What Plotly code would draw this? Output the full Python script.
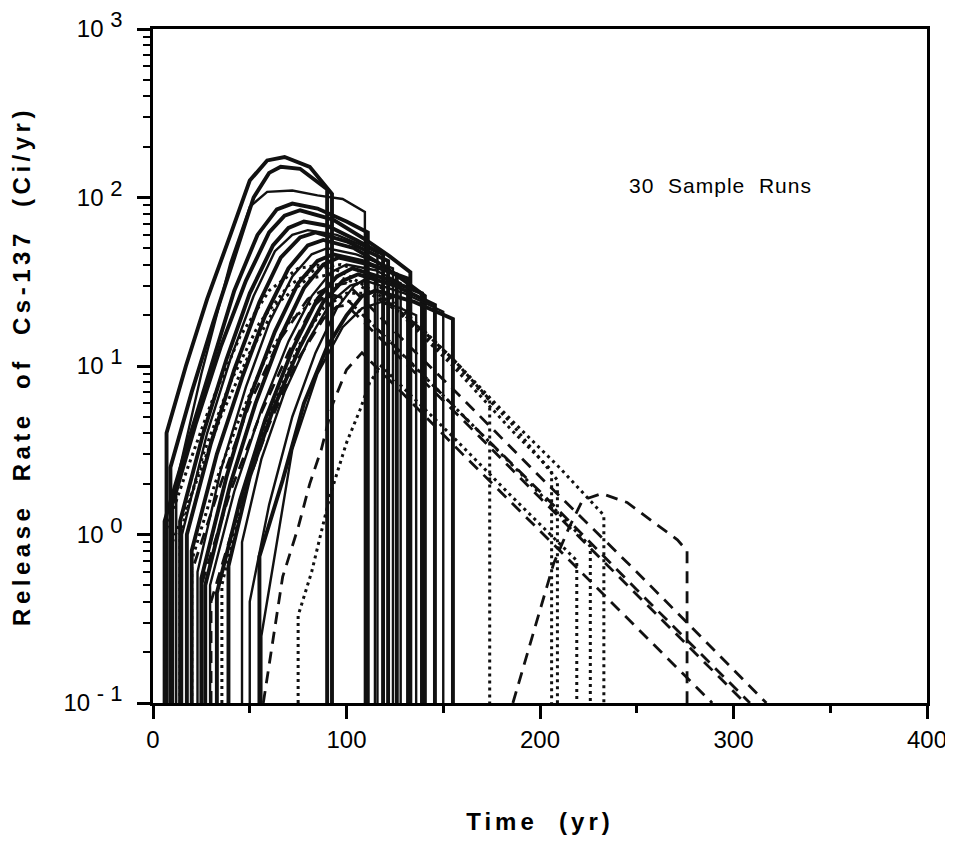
import plotly.graph_objects as go

# ---------------- data ----------------
# solid runs
s_t = [
    [7, 7, 17, 28, 40, 50, 59, 68, 81, 91, 92.5, 92.5],
    [9, 9, 20, 31, 42, 52, 60, 66, 76, 88, 90, 90],
    [12, 12, 25, 40, 50, 59, 72, 85, 98, 109.5, 109.5],
    [10, 10, 22, 35, 48, 60, 68, 76, 93, 110, 122, 133, 133],
    [14, 14, 26, 38, 50, 62, 70, 78, 90, 105, 118.9, 118.9],
    [15, 15, 28, 40, 52, 63, 72, 80, 95, 108, 116, 116],
    [17.5, 17.5, 30, 42, 55, 66, 76, 84, 100, 121.5, 121.5],
    [20, 20, 33, 46, 58, 70, 80, 88, 104, 118, 130, 140.5, 140.5],
    [23, 23, 35, 48, 60, 72, 82, 90, 105, 124, 124],
    [25, 25, 38, 50, 63, 75, 85, 93, 108, 126, 126],
    [27, 27, 40, 53, 66, 78, 88, 96, 112, 131.8, 131.8],
    [29.5, 29.5, 42, 56, 70, 82, 92, 100, 115, 128, 128],
    [33, 33, 45, 58, 72, 85, 95, 103, 120, 139, 139],
    [39, 39, 50, 62, 76, 88, 98, 106, 125, 145.7, 145.7],
    [46, 46, 56, 68, 80, 92, 102, 110, 130, 150, 150],
    [55, 55, 67, 78, 90, 100, 108, 115, 135, 155, 155],
    [56, 56, 72, 85, 98, 108, 118, 128, 136, 136],
    [6, 6, 18, 30, 42, 54, 64, 72, 85, 100, 111, 111],
    [50, 50, 60, 72, 84, 95, 104, 112, 114.7, 114.7],
]
s_v = [
    [0.1, 4, 10, 25, 60, 126, 166, 174, 152, 112, 105, 0.1],
    [0.1, 2.5, 7, 18, 44, 100, 140, 152, 148, 118, 112, 0.1],
    [0.1, 2, 9, 41, 88, 108, 110, 103, 98, 82, 0.1],
    [0.1, 1.5, 4.5, 13, 32, 62, 78, 84, 74, 56, 45, 36, 0.1],
    [0.1, 1.2, 4, 11, 27, 52, 66, 72, 68, 56, 46, 0.1],
    [0.1, 1.0, 4, 11, 26, 48, 60, 64, 60, 52, 47, 0.1],
    [0.1, 1.0, 3.5, 9.5, 24, 44, 58, 62, 55, 42, 0.1],
    [0.1, 0.8, 3, 8.5, 20, 38, 52, 56, 50, 40, 32, 26, 0.1],
    [0.1, 0.6, 2.4, 7.5, 18, 34, 46, 50, 46, 38, 0.1],
    [0.1, 0.55, 2.2, 6.5, 16, 31, 42, 46, 42, 35, 0.1],
    [0.1, 0.5, 2, 6, 15, 29, 40, 44, 40, 33, 0.1],
    [0.1, 0.5, 1.8, 5.5, 14, 26, 36, 40, 37, 31, 0.1],
    [0.1, 0.45, 1.6, 4.8, 12.5, 25, 34, 38, 33, 27, 0.1],
    [0.1, 0.65, 2.2, 5.5, 13, 24, 32, 35, 30, 23, 0.1],
    [0.1, 0.9, 2.8, 7, 14, 24, 30, 32, 27, 21, 0.1],
    [0.1, 0.74, 2.1, 6, 13, 20, 26, 28, 24, 19, 0.1],
    [0.1, 0.25, 3.2, 9, 17, 22, 24, 22, 20, 0.1],
    [0.1, 1.2, 3.5, 10, 28, 60, 85, 92, 86, 72, 62, 0.1],
    [0.1, 0.4, 1.5, 5, 12, 22, 30, 34, 34, 0.1],
]
s_thick = [1, 1, 0, 1, 1, 0, 1, 1, 0, 1, 1, 0, 1, 1, 0, 1, 0, 1, 0]

# dotted runs
p_t = [
    [6, 6, 18, 30, 45, 60, 75, 88, 100, 120, 140, 155, 174, 174],
    [10, 10, 22, 35, 50, 65, 80, 92, 105, 125, 155, 185, 206, 206],
    [35.6, 35.6, 45, 60, 75, 88, 100, 112, 130, 155, 185, 209, 209],
    [75, 75, 82, 91.5, 100, 107, 112, 118, 135, 155, 185, 219, 219],
    [20, 20, 32, 45, 58, 70, 82, 92, 102, 125, 155, 190, 226, 226],
    [14, 14, 26, 40, 55, 70, 85, 97, 110, 130, 155, 185, 210, 233, 233],
]
p_v = [
    [0.1, 1, 2.5, 6, 15, 28, 38, 40, 35, 25, 16, 11, 6.3, 0.1],
    [0.1, 0.9, 2, 5, 12, 24, 33, 35, 31, 22, 10, 4.2, 2.4, 0.1],
    [0.1, 0.5, 1.5, 5, 13, 22, 27, 27, 20, 10.5, 4.6, 2.1, 0.1],
    [0.1, 0.33, 0.6, 1.7, 3.5, 5.5, 8, 10, 6.4, 3.8, 1.7, 0.7, 0.1],
    [0.1, 0.7, 2, 5, 11, 18, 24, 26, 24, 13, 5.8, 2.3, 0.85, 0.1],
    [0.1, 1, 3, 8, 18, 30, 38, 40, 36, 21, 11, 4.8, 2.5, 1.3, 0.1],
]

# dashed runs
q_t = [
    [20, 20, 35, 50, 65, 80, 92, 100, 130, 160, 200, 250, 317],
    [25, 25, 40, 55, 70, 82, 90, 100, 130, 160, 200, 250, 308.5],
    [30, 30, 45, 60, 75, 88, 95, 100, 130, 160, 200, 250, 306],
    [57, 67, 75, 81, 87, 93, 100, 108, 130, 160, 200, 250, 289],
    [186, 207, 215, 222, 232, 245, 258, 271, 276, 276],
]
q_v = [
    [0.1, 0.6, 2, 6, 14, 25, 30, 31, 14, 6.4, 2.2, 0.6, 0.1],
    [0.1, 0.5, 1.8, 5, 12, 22, 27, 25, 11.5, 5.1, 1.8, 0.47, 0.1],
    [0.1, 0.4, 1.5, 4.5, 11, 19, 22.5, 23, 10.5, 4.8, 1.65, 0.44, 0.1],
    [0.1, 0.56, 1.1, 2.0, 3.2, 6, 9.5, 12, 6.7, 3.0, 1.05, 0.28, 0.1],
    [0.1, 0.67, 1.1, 1.6, 1.75, 1.55, 1.2, 0.93, 0.8, 0.1],
]

x_ticks = [0, 100, 200, 300, 400]
x_minor = [50, 150, 250, 350]
y_ticks = [0.1, 1, 10, 100, 1000]
y_exponents = ["- 1", "0", "1", "2", "3"]
y_minor = [0.2, 0.3, 0.4, 0.5, 0.6, 0.7, 0.8, 0.9,
           2, 3, 4, 5, 6, 7, 8, 9,
           20, 30, 40, 50, 60, 70, 80, 90,
           200, 300, 400, 500, 600, 700, 800, 900]

y_ticktext = ["10 <sup><span style='font-size:22px'>%s</span></sup>" % e
              for e in y_exponents]

# ---------------- figure ----------------
fig = go.Figure()
ink = "#111111"
for t, v, th in zip(s_t, s_v, s_thick):
    fig.add_trace(go.Scatter(x=t, y=v, mode="lines",
                             line=dict(color=ink, width=3.9 if th else 2.4),
                             showlegend=False, hoverinfo="skip"))
for t, v in zip(p_t, p_v):
    fig.add_trace(go.Scatter(x=t, y=v, mode="lines",
                             line=dict(color=ink, width=3, dash="3px,4px"),
                             showlegend=False, hoverinfo="skip"))
for t, v in zip(q_t, q_v):
    fig.add_trace(go.Scatter(x=t, y=v, mode="lines",
                             line=dict(color=ink, width=2.8, dash="12px,8px"),
                             showlegend=False, hoverinfo="skip"))

font_main = "Liberation Sans, Arial, sans-serif"
# page body has an 8px default margin, so the figure is 8px smaller
fig.update_layout(
    width=945, height=836,
    margin=dict(l=145, r=26, t=21, b=141, autoexpand=False),
    paper_bgcolor="white", plot_bgcolor="white",
    font=dict(family=font_main, size=20, color="black"),
    xaxis=dict(
        range=[0, 400], tickmode="array", tickvals=x_ticks,
        ticks="outside", ticklen=13, tickwidth=2.5, tickcolor="black",
        minor=dict(tickmode="array", tickvals=x_minor, ticks="outside",
                   ticklen=7, tickwidth=2.5, tickcolor="black", showgrid=False),
        showline=True, linecolor="black", linewidth=2.5, mirror=True,
        showgrid=False, zeroline=False, automargin=False,
        tickfont=dict(size=24), ticklabeloverflow="allow",
        title=dict(text="<b><span style='letter-spacing:4px'>Time  (yr)</span></b>",
                   font=dict(size=24), standoff=62),
    ),
    yaxis=dict(
        type="log", range=[-1, 3], tickmode="array",
        tickvals=y_ticks, ticktext=y_ticktext,
        ticks="outside", ticklen=13, tickwidth=2.5, tickcolor="black",
        minor=dict(tickmode="array", tickvals=y_minor, ticks="outside",
                   ticklen=7, tickwidth=2, tickcolor="black", showgrid=False),
        showline=True, linecolor="black", linewidth=2.5, mirror=True,
        showgrid=False, zeroline=False, automargin=False,
        tickfont=dict(size=24), ticklabeloverflow="allow", ticklabelstandoff=10,
        title=dict(text="<b><span style='letter-spacing:4.5px'>Release  Rate  of  Cs-137  (Ci/yr)</span></b>",
                   font=dict(size=24), standoff=30),
    ),
    annotations=[dict(text="<span style='letter-spacing:1px'>30  Sample  Runs</span>",
                      x=0.733, y=0.7685, xanchor="center", yanchor="middle",
                      xref="paper", yref="paper", showarrow=False,
                      font=dict(size=21, color="black"))],
)

fig.write_html("out.html")
